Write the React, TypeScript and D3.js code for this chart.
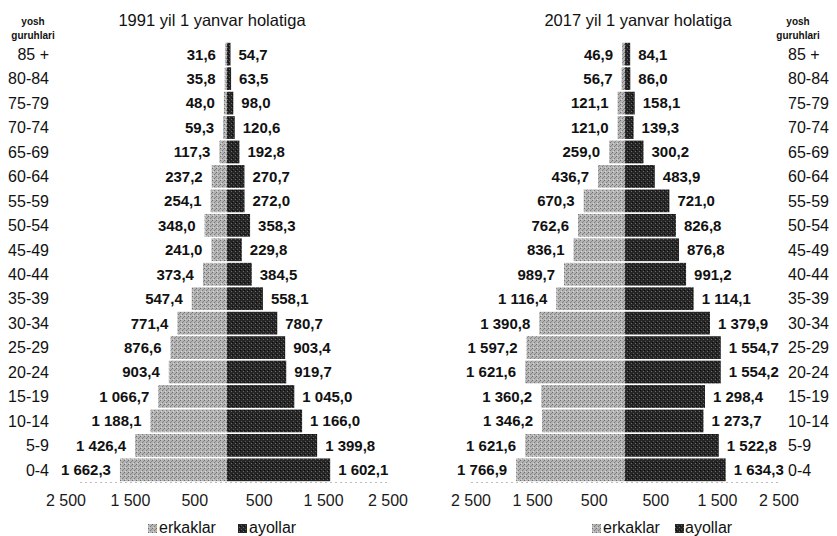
import React from "react";
import * as d3 from "d3";

const ageGroups = ["85 +", "80-84", "75-79", "70-74", "65-69", "60-64", "55-59", "50-54", "45-49", "40-44", "35-39", "30-34", "25-29", "20-24", "15-19", "10-14", "5-9", "0-4"];
const male1991 = [31.6, 35.8, 48.0, 59.3, 117.3, 237.2, 254.1, 348.0, 241.0, 373.4, 547.4, 771.4, 876.6, 903.4, 1066.7, 1188.1, 1426.4, 1662.3];
const female1991 = [54.7, 63.5, 98.0, 120.6, 192.8, 270.7, 272.0, 358.3, 229.8, 384.5, 558.1, 780.7, 903.4, 919.7, 1045.0, 1166.0, 1399.8, 1602.1];
const male2017 = [46.9, 56.7, 121.1, 121.0, 259.0, 436.7, 670.3, 762.6, 836.1, 989.7, 1116.4, 1390.8, 1597.2, 1621.6, 1360.2, 1346.2, 1621.6, 1766.9];
const female2017 = [84.1, 86.0, 158.1, 139.3, 300.2, 483.9, 721.0, 826.8, 876.8, 991.2, 1114.1, 1379.9, 1554.7, 1554.2, 1298.4, 1273.7, 1522.8, 1634.3];
const tickValues = [-2500, -1500, -500, 500, 1500, 2500];
const titles = ["1991 yil 1 yanvar holatiga", "2017 yil 1 yanvar holatiga"];
const legendLabels = ["erkaklar", "ayollar"];
const axisTitle = ["yosh", "guruhlari"];

const W = 837;
const H = 536;
const FONT = "'Liberation Sans', Arial, Helvetica, sans-serif";

const locale = d3.formatLocale({ decimal: ",", thousands: "\u00a0", grouping: [3], currency: ["", ""] });
const fmtVal = locale.format(",.1f");
const fmtTick = locale.format(",d");

const y = d3.scaleBand<string>().domain(ageGroups).range([42.8, 481.2]).paddingInner(0.07);

type Panel = {
  male: number[];
  female: number[];
  title: string;
  center: number;
  half: number;
  titleX: number;
  labelSide: "left" | "right";
  labelX: number;
  yoshX: number;
  legendX: number;
  baseInset: number;
};

const panels: Panel[] = [
  { male: male1991, female: female1991, title: titles[0], center: 227, half: 161, titleX: 212, labelSide: "left", labelX: 49, yoshX: 33, legendX: 148, baseInset: 14 },
  { male: male2017, female: female2017, title: titles[1], center: 625, half: 154, titleX: 638, labelSide: "right", labelX: 788, yoshX: 798, legendX: 592, baseInset: 0 },
];

function PanelView({ p, idx }: { p: Panel; idx: number }) {
  const x = d3.scaleLinear().domain([-2500, 2500]).range([p.center - p.half, p.center + p.half]);
  const bh = y.bandwidth();
  return (
    <g>
      <text x={p.titleX} y={26} textAnchor="middle" fontSize={16.5} fill="#111">{p.title}</text>
      <text x={p.yoshX} y={25} textAnchor="middle" fontSize={10} fontWeight="bold" fill="#111">{axisTitle[0]}</text>
      <text x={p.yoshX} y={39} textAnchor="middle" fontSize={10} fontWeight="bold" fill="#111">{axisTitle[1]}</text>
      {ageGroups.map((g, i) => {
        const yc = (y(g) as number) + bh / 2;
        const m = p.male[i];
        const f = p.female[i];
        return (
          <g key={g}>
            <rect x={x(-m)} y={y(g)} width={x(0) - x(-m)} height={bh} fill={`url(#maleP${idx})`} />
            <rect x={x(0)} y={y(g)} width={x(f) - x(0)} height={bh} fill={`url(#femaleP${idx})`} />
            <text x={x(-m) - 9} y={yc} dy="0.36em" textAnchor="end" fontSize={15} fontWeight="bold" fill="#111">{fmtVal(m)}</text>
            <text x={x(f) + 8} y={yc} dy="0.36em" textAnchor="start" fontSize={15} fontWeight="bold" fill="#111">{fmtVal(f)}</text>
            <text x={p.labelX} y={yc} dy="0.36em" textAnchor={p.labelSide === "left" ? "end" : "start"} fontSize={16} fill="#111">{g}</text>
          </g>
        );
      })}
      <line x1={x(-2500) + p.baseInset} x2={x(2500)} y1={482.5} y2={482.5} stroke="#bdbdbd" strokeWidth={1} strokeDasharray="2,3" />
      {tickValues.map((t) => (
        <text key={t} x={x(t)} y={506} textAnchor="middle" fontSize={16} fill="#1a1a1a">{fmtTick(Math.abs(t))}</text>
      ))}
      <g>
        <rect x={p.legendX} y={524} width={9} height={9} fill={`url(#maleP${idx})`} />
        <text x={p.legendX + 11} y={533} fontSize={16} fill="#111">{legendLabels[0]}</text>
        <rect x={p.legendX + (idx === 0 ? 90 : 83)} y={524} width={9} height={9} fill={`url(#femaleP${idx})`} />
        <text x={p.legendX + (idx === 0 ? 101 : 93)} y={533} fontSize={16} fill="#111">{legendLabels[1]}</text>
      </g>
    </g>
  );
}

export default function App() {
  return (
    <svg width={W} height={H} viewBox={`0 0 ${W} ${H}`} style={{ position: "absolute", left: 0, top: 0, background: "#fff" }} fontFamily={FONT}>
      <defs>
        {[0, 1].map((i) => (
          <React.Fragment key={i}>
            <pattern id={`maleP${i}`} width={4} height={4} patternUnits="userSpaceOnUse">
              <rect width={4} height={4} fill="#b4b4b4" />
              <rect x={0} y={0} width={1} height={1} fill="#6e6e6e" />
              <rect x={2} y={2} width={1} height={1} fill="#7a7a7a" />
              <rect x={1} y={3} width={1} height={1} fill="#d8d8d8" />
              <rect x={3} y={1} width={1} height={1} fill="#8a8a8a" />
            </pattern>
            <pattern id={`femaleP${i}`} width={4} height={4} patternUnits="userSpaceOnUse">
              <rect width={4} height={4} fill="#262626" />
              <rect x={1} y={1} width={1} height={1} fill="#5a5a5a" />
              <rect x={3} y={3} width={1} height={1} fill="#6a6a6a" />
              <rect x={0} y={2} width={1} height={1} fill="#0a0a0a" />
            </pattern>
          </React.Fragment>
        ))}
      </defs>
      <rect width={W} height={H} fill="#fff" />
      {panels.map((p, i) => (
        <PanelView key={i} p={p} idx={i} />
      ))}
    </svg>
  );
}
